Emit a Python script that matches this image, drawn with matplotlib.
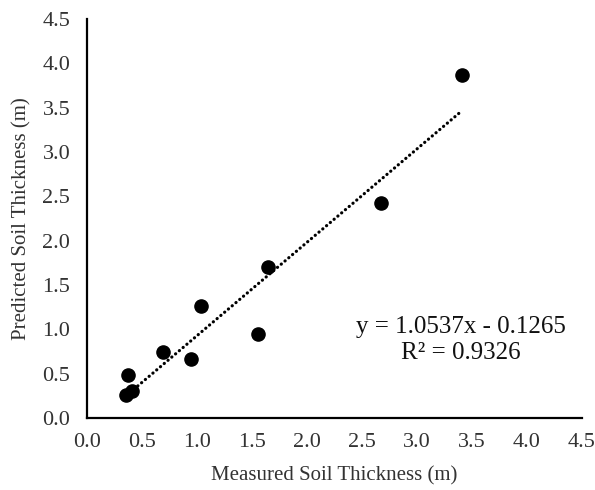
import matplotlib
matplotlib.use('Agg')
import matplotlib.pyplot as plt
import numpy as np

# Measured vs predicted soil thickness (m)
measured = [0.36, 0.41, 0.37, 0.69, 0.95, 1.04, 1.56, 1.65, 2.67, 3.41]
predicted = [0.26, 0.30, 0.49, 0.74, 0.67, 1.26, 0.95, 1.70, 2.42, 3.87]

# Trendline coefficients as printed on the chart
slope = 1.0537
intercept = -0.1265
r2 = 0.9326

ticks = [0.0, 0.5, 1.0, 1.5, 2.0, 2.5, 3.0, 3.5, 4.0, 4.5]

plt.rcParams['font.family'] = ['Liberation Serif', 'DejaVu Serif']

fig = plt.figure(figsize=(5.95, 4.9), dpi=100)
ax = fig.add_axes([0.146, 0.147, 0.832, 0.814])

ax.scatter(measured, predicted, s=90, color='black', zorder=3)

xs = np.array([min(measured), max(measured)])
ax.plot(xs, slope * xs + intercept, color='black', linestyle=(0, (0.05, 1.5)),
        linewidth=2.3, dash_capstyle='round')

ax.set_xlim(0, 4.5)
ax.set_ylim(0, 4.5)
ax.set_xticks(ticks)
ax.set_yticks(ticks)
ax.set_xticklabels([f'{t:.1f}' for t in ticks])
ax.set_yticklabels([f'{t:.1f}' for t in ticks])
ax.tick_params(length=0, labelsize=16, colors='#333333')
ax.tick_params(axis='x', pad=11)
ax.tick_params(axis='y', pad=12)

for side in ['top', 'right']:
    ax.spines[side].set_visible(False)
for side in ['left', 'bottom']:
    ax.spines[side].set_linewidth(1.6)

ax.set_xlabel('Measured Soil Thickness (m)', fontsize=15, color='#333333', labelpad=10)
ax.set_ylabel('Predicted Soil Thickness (m)', fontsize=15, color='#333333', labelpad=8)

ax.text(3.4, 0.88, f'y = {slope}x - {abs(intercept)}\nR² = {r2}', fontsize=18,
        ha='center', va='center', linespacing=1.25, color='#111111')

fig.savefig('out.png', dpi=100)
